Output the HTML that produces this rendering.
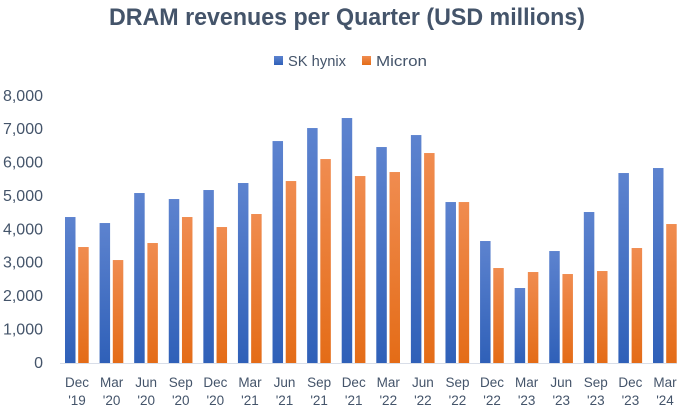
<!DOCTYPE html>
<html lang="en">
<head>
<meta charset="utf-8">
<title>DRAM revenues per Quarter</title>
<style>
  html, body { margin: 0; padding: 0; background: #fff; }
  svg { display: block; font-family: "Liberation Sans", sans-serif; }
</style>
</head>
<body>
<svg id="chart" xmlns="http://www.w3.org/2000/svg" width="683" height="412" viewBox="0 0 683 412">
  <defs>
    <linearGradient id="blue-gradient" x1="0" y1="0" x2="0" y2="1">
      <stop offset="0" stop-color="#5d83cf"/>
      <stop offset="1" stop-color="#2f60b8"/>
    </linearGradient>
    <linearGradient id="orange-gradient" x1="0" y1="0" x2="0" y2="1">
      <stop offset="0" stop-color="#f08c50"/>
      <stop offset="1" stop-color="#e46c17"/>
    </linearGradient>
  </defs>
  <text x="347" y="25" text-anchor="middle" font-size="24" font-weight="700" fill="#44546a" textLength="476" lengthAdjust="spacingAndGlyphs">DRAM revenues per Quarter (USD millions)</text>
  <g>
    <g>
      <rect x="274" y="56" width="9" height="9" fill="url(#blue-gradient)"/>
      <text x="288" y="66" font-size="15" fill="#44546a" textLength="58" lengthAdjust="spacingAndGlyphs">SK hynix</text>
    </g>
    <g>
      <rect x="362" y="56" width="9" height="9" fill="url(#orange-gradient)"/>
      <text x="376" y="66" font-size="15" fill="#44546a" textLength="51" lengthAdjust="spacingAndGlyphs">Micron</text>
    </g>
  </g>
  <g id="y-axis"></g>
  <g id="bars"></g>
  <line x1="60" y1="363.5" x2="677" y2="363.5" stroke="#d9dee8" stroke-width="1"/>
  <g id="x-axis"></g>
</svg>
<script>
const months = ["Dec","Mar","Jun","Sep","Dec","Mar","Jun","Sep","Dec","Mar","Jun","Sep","Dec","Mar","Jun","Sep","Dec","Mar"];
const years = ["'19","'20","'20","'20","'20","'21","'21","'21","'21","'22","'22","'22","'22","'23","'23","'23","'23","'24"];
const skHynix = [4374,4194,5093,4913,5183,5393,6650,7040,7340,6471,6830,4823,3655,2247,3355,4524,5692,5842];
const micron = [3475,3085,3595,4374,4074,4464,5452,6111,5602,5722,6291,4823,2846,2726,2666,2756,3445,4164];
const yTicks = [0,1000,2000,3000,4000,5000,6000,7000,8000];

const NS = "http://www.w3.org/2000/svg";
const yMax = 8000;
const plotBottom = 363;
const plotTop = 96;
const firstCenter = 77;
const lastCenter = 665;

function yScale(v) {
  return plotBottom - (v / yMax) * (plotBottom - plotTop);
}
function xScale(i) {
  return firstCenter + i * (lastCenter - firstCenter) / (months.length - 1);
}
function make(tag, attrs, parent) {
  const el = document.createElementNS(NS, tag);
  for (const k in attrs) el.setAttribute(k, attrs[k]);
  parent.appendChild(el);
  return el;
}

const barsGroup = document.getElementById("bars");
const yGroup = document.getElementById("y-axis");
const xGroup = document.getElementById("x-axis");
const barWidth = 10.5;

yTicks.forEach(function (t) {
  const label = make("text", { x: 43, y: yScale(t) + 4.8, "text-anchor": "end", "font-size": 16, fill: "#44546a" }, yGroup);
  
  
  label.textContent = t.toLocaleString("en-US");
});

months.forEach(function (m, i) {
  const cx = xScale(i);

  const blue = make("rect", { x: cx - 12, y: yScale(skHynix[i]), width: barWidth, height: plotBottom - yScale(skHynix[i]), fill: "url(#blue-gradient)" }, barsGroup);
  
  

  const orange = make("rect", { x: cx + 1.2, y: yScale(micron[i]), width: barWidth, height: plotBottom - yScale(micron[i]), fill: "url(#orange-gradient)" }, barsGroup);
  
  

  const monthLabel = make("text", { x: cx, y: 387, "text-anchor": "middle", "font-size": 13.5, fill: "#44546a" }, xGroup);
  
  
  monthLabel.textContent = m;

  const yearLabel = make("text", { x: cx, y: 405, "text-anchor": "middle", "font-size": 13.5, fill: "#44546a" }, xGroup);
  
  
  yearLabel.textContent = years[i];
});
</script>
</body>
</html>
